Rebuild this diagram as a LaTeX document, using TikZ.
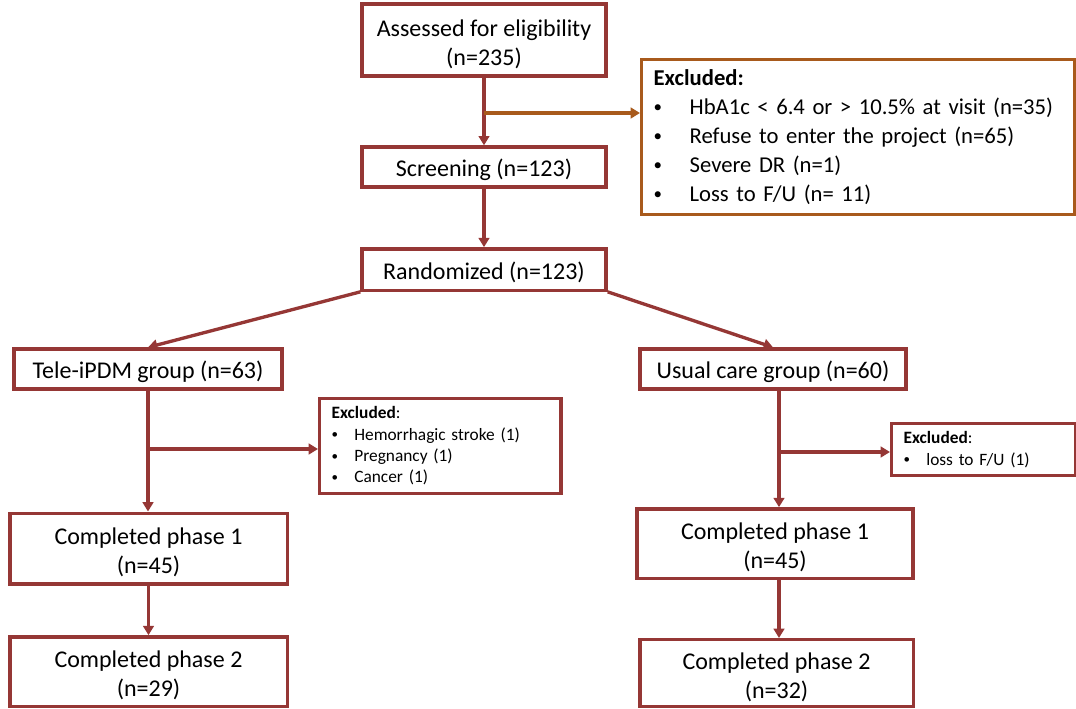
\documentclass[tikz,border=0pt]{standalone}
\usepackage{fontspec}
\setmainfont{Carlito}
\usetikzlibrary{arrows.meta}
\definecolor{boxred}{HTML}{953735}
\definecolor{exbrown}{HTML}{A85A1C}
\newcommand{\itmA}{\makebox[27pt][l]{\raisebox{1.5pt}{\scalebox{0.75}{\textbullet}}}}
\newcommand{\itmB}{\makebox[17pt][l]{\raisebox{1pt}{\scalebox{0.75}{\textbullet}}}}

\begin{document}
\begin{tikzpicture}[x=0.75pt,y=-0.75pt,
  box/.style={draw=boxred, line width=2.5pt, align=center, inner sep=0pt,
    font=\fontsize{18}{21.5}\selectfont, text height=17.5pt},
  twobox/.style={box, text height=40pt},
  exbox/.style={draw=boxred, line width=2.5pt, align=left, anchor=north west,
    inner ysep=0pt, inner xsep=9pt, font=\fontsize{13}{16}\selectfont},
  arr/.style={draw=boxred, line width=2.5pt, -{Triangle[length=7pt,width=8pt]}}]
\useasboundingbox (0,0) rectangle (1076,708);

% main column
\node[twobox, minimum width=183pt, minimum height=54pt] (assess) at (484,40) {Assessed for eligibility\\(n=235)};
\node[box, minimum width=183pt, minimum height=30pt] (screen) at (484,167) {Screening (n=123)};
\node[box, minimum width=183pt, minimum height=31pt] (rand) at (484,269.5) {Randomized (n=123)};

\node[draw=exbrown, line width=2.5pt, anchor=north west, align=left, inner xsep=9pt,
  text width=307pt, minimum height=116pt, font=\fontsize{17}{21.75}\selectfont] (extop) at (640,58)
  {\textbf{Excluded:}\\
   \itmA HbA1c < 6.4 or > 10.5\% at visit (n=35)\\
   \itmA Refuse to enter the project (n=65)\\
   \itmA Severe DR (n=1)\\
   \itmA Loss to F/U (n= 11)};

% groups
\node[box, minimum width=201pt, minimum height=30pt] (tele) at (148,369) {Tele-iPDM group (n=63)};
\node[box, minimum width=199.5pt, minimum height=30pt] (usual) at (773,369) {Usual care group (n=60)};

\node[exbox, text width=163pt, minimum height=71pt] (exl) at (318,397)
  {\textbf{Excluded}:\\
   \itmB Hemorrhagic stroke (1)\\
   \itmB Pregnancy (1)\\
   \itmB Cancer (1)};
\node[exbox, text width=120pt, minimum height=39pt] (exr) at (890,422)
  {\textbf{Excluded}:\\
   \itmB loss to F/U (1)};

\node[twobox, minimum width=208pt, minimum height=53pt] (p1l) at (148.5,548.5) {Completed phase 1\\(n=45)};
\node[twobox, minimum width=207pt, minimum height=52pt] (p1r) at (775,543.5) {Completed phase 1\\(n=45)};
\node[twobox, minimum width=208pt, minimum height=52pt] (p2l) at (148.5,671.5) {Completed phase 2\\(n=29)};
\node[twobox, minimum width=205pt, minimum height=50pt] (p2r) at (776.5,673) {Completed phase 2\\(n=32)};

% connectors
\coordinate (b1) at (484,113);
\coordinate (b2) at (148,449);
\coordinate (b3) at (779,452);
\draw[arr] (assess) -- (screen);
\draw[arr, draw=exbrown] (b1) -- (extop.west |- b1);
\draw[arr] (screen) -- (rand);
\draw[arr] (rand.south west) -- (tele.north);
\draw[arr] (rand.south east) -- (usual.north);
\draw[arr] (tele) -- (p1l.north -| tele);
\draw[arr] (b2) -- (exl.west |- b2);
\draw[arr] (b3 |- usual.south) -- (b3 |- p1r.north);
\draw[arr] (b3) -- (exr.west |- b3);
\draw[arr] (p1l) -- (p2l);
\draw[arr] (b3 |- p1r.south) -- (b3 |- p2r.north);
\end{tikzpicture}
\end{document}
